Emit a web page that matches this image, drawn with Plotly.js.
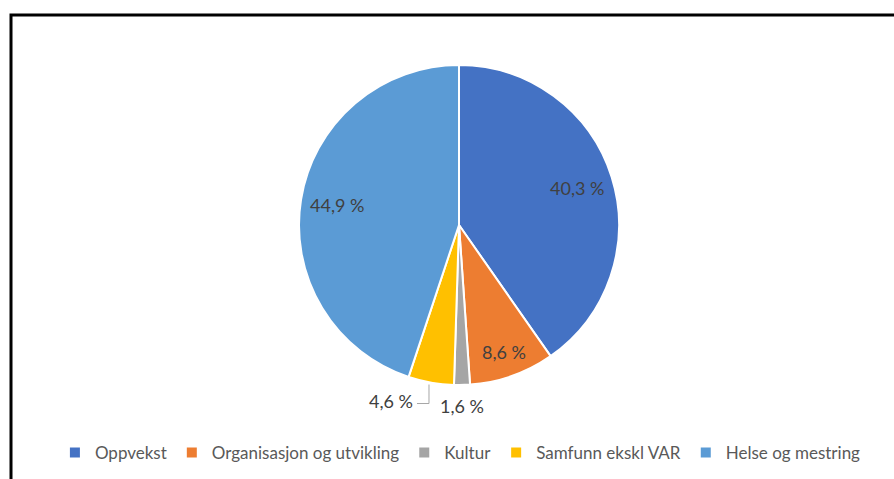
<!DOCTYPE html>
<html>
<head>
<meta charset="utf-8">
<script src="https://cdn.plot.ly/plotly-3.0.1.min.js"></script>
<style>
  html, body { margin: 0; padding: 0; background: #ffffff; }
  #chart { width: 894px; height: 479px; }
</style>
</head>
<body>
<div id="chart"></div>
<script>
const categories = ["Oppvekst", "Organisasjon og utvikling", "Kultur", "Samfunn ekskl VAR", "Helse og mestring"];
const shares = [40.3, 8.6, 1.6, 4.6, 44.9];
const colors = ["#4472C4", "#ED7D31", "#A5A5A5", "#FFC000", "#5B9BD5"];
const labelPlacement = ["inside", "inside", "outside", "leader", "inside"];

const W = 894, H = 479;
const cx = 459, cy = 225, r = 160;
const FONT = "Lato, 'Open Sans', sans-serif";

const total = shares.reduce((a, b) => a + b, 0);

// label annotations computed from the data (mid-angle of each slice, clockwise from 12 o'clock)
const annotations = [];
const shapes = [{
  type: "rect", xref: "paper", yref: "paper",
  x0: 11 / W, x1: 1.02, y0: -0.02, y1: 1 - 15 / H,
  line: { color: "#000000", width: 3 }
}];
const px = x => x / W;
const py = y => 1 - y / H;
let cum = 0;
shares.forEach((v, i) => {
  const mid = (cum + v / 2) / total * 2 * Math.PI;
  cum += v;
  const sx = Math.sin(mid), sy = -Math.cos(mid);
  const txt = v.toFixed(1).replace(".", ",") + " %";
  let x, y, xanchor = "center";
  if (labelPlacement[i] === "inside") {
    const f = v < 20 ? 0.84 : 0.77;
    x = cx + f * r * sx; y = cy + f * r * sy;
  } else if (labelPlacement[i] === "outside") {
    x = cx + 1.13 * r * sx; y = cy + 1.13 * r * sy;
  } else {
    const ex = cx + r * sx, ey = cy + r * sy;
    const lx = ex - 2, ly = ey + 21;
    shapes.push({
      type: "path", xref: "paper", yref: "paper",
      path: `M ${px(lx - 12)} ${py(ly)} L ${px(lx)} ${py(ly)} L ${px(lx)} ${py(ey + 2)}`,
      line: { color: "#A6A6A6", width: 1 }
    });
    x = lx - 14; y = ly - 3; xanchor = "right";
  }
  annotations.push({
    xref: "paper", yref: "paper", x: px(x), y: py(y),
    xanchor: xanchor, yanchor: "middle", showarrow: false,
    text: txt, font: { family: FONT, size: 18, color: "#404040" }
  });
});

const trace = {
  type: "pie",
  labels: categories,
  values: shares,
  sort: false,
  direction: "clockwise",
  rotation: 0,
  marker: { colors: colors, line: { color: "#ffffff", width: 2 } },
  textinfo: "none",
  hoverinfo: "label+percent",
  domain: { x: [(cx - r) / W, (cx + r) / W], y: [(H - cy - r) / H, (H - cy + r) / H] }
};

const layout = {
  width: W, height: H,
  margin: { l: 0, r: 0, t: 0, b: 0 },
  paper_bgcolor: "#ffffff",
  showlegend: true,
  legend: {
    orientation: "h", x: 0.515, xanchor: "center", y: (H - 453) / H, yanchor: "middle",
    font: { family: FONT, size: 17, color: "#595959" },
    itemwidth: 30,
    traceorder: "normal"
  },
  annotations: annotations,
  shapes: shapes
};

Plotly.newPlot("chart", [trace], layout, { displayModeBar: false, staticPlot: true });
</script>
</body>
</html>
